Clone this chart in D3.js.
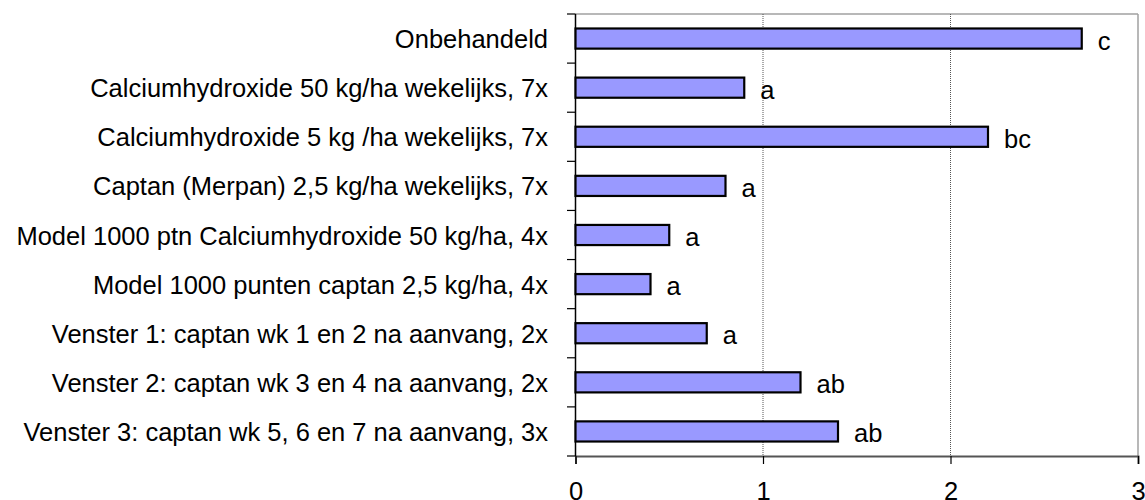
<!DOCTYPE html>
<html><head><meta charset="utf-8">
<script src="https://cdn.jsdelivr.net/npm/d3@7"></script>
<style>body{margin:0;background:#fff}svg text{font-family:"Liberation Sans",Arial,sans-serif;fill:#000}</style>
</head><body><svg id="c" width="1145" height="500"></svg>
<script>
const categories = [
  "Onbehandeld",
  "Calciumhydroxide 50 kg/ha wekelijks, 7x",
  "Calciumhydroxide 5 kg /ha wekelijks, 7x",
  "Captan (Merpan) 2,5 kg/ha wekelijks, 7x",
  "Model 1000 ptn Calciumhydroxide 50 kg/ha, 4x",
  "Model 1000 punten captan 2,5 kg/ha, 4x",
  "Venster 1: captan wk 1 en 2 na aanvang, 2x",
  "Venster 2: captan wk 3 en 4 na aanvang, 2x",
  "Venster 3: captan wk 5, 6 en 7 na aanvang, 3x"
];
const values = [2.7, 0.9, 2.2, 0.8, 0.5, 0.4, 0.7, 1.2, 1.4];
const letters = ["c", "a", "bc", "a", "a", "a", "a", "ab", "ab"];
const xTicks = [0, 1, 2, 3];

const svg = d3.select("#c");
const fs = 25.5;
const x = d3.scaleLinear().domain([0, 3]).range([575.5, 1138]);
const y = d3.scaleBand().domain(categories).range([14, 456]).paddingInner(0.59).paddingOuter(0.295);
const step = y.step();

// plot border (grey top/right)
svg.append("line").attr("x1", x(0)).attr("x2", x(3)).attr("y1", 14).attr("y2", 14).attr("stroke", "#a0a0a0").attr("stroke-width", 1.5);
svg.append("line").attr("x1", x(3)).attr("x2", x(3)).attr("y1", 14).attr("y2", 456).attr("stroke", "#a0a0a0").attr("stroke-width", 1.5);

// gridlines
svg.append("g").selectAll("line").data(xTicks.filter(t => t > 0 && t < 3)).join("line")
  .attr("x1", d => x(d)).attr("x2", d => x(d)).attr("y1", 14).attr("y2", 456)
  .attr("stroke", "#555").attr("stroke-width", 1).attr("stroke-dasharray", "1,1");

// x axis
const xAxis = d3.axisBottom(x).tickValues(xTicks).tickSize(8).tickPadding(19).tickFormat(d3.format("d"));
const gx = svg.append("g").attr("transform", "translate(0,456)").call(xAxis);
gx.select(".domain").attr("stroke", "#555").attr("stroke-width", 2);
gx.selectAll(".tick line").attr("stroke", "#000").attr("stroke-width", 1.2);
gx.selectAll(".tick text").attr("font-size", fs).attr("font-family", null).attr("dy", null).attr("y", 43.5);

// y axis: ticks at band boundaries
const bounds = d3.range(categories.length + 1).map(i => 14 + i * step);
svg.append("g").selectAll("line").data(bounds).join("line")
  .attr("x1", 567).attr("x2", x(0)).attr("y1", d => d).attr("y2", d => d)
  .attr("stroke", "#000").attr("stroke-width", 1.2);
svg.append("line").attr("x1", x(0)).attr("x2", x(0)).attr("y1", 14).attr("y2", 456).attr("stroke", "#000").attr("stroke-width", 1.5);

// category labels
svg.append("g").selectAll("text").data(categories).join("text")
  .attr("x", 548).attr("y", d => y(d) + y.bandwidth() / 2 + 9.5)
  .attr("text-anchor", "end").attr("font-size", fs).text(d => d);

// bars
svg.append("g").selectAll("rect").data(values).join("rect")
  .attr("x", x(0)).attr("y", (d, i) => y(categories[i]))
  .attr("width", d => x(d) - x(0)).attr("height", y.bandwidth())
  .attr("fill", "#9999ff").attr("stroke", "#000").attr("stroke-width", 2.2);

// letter labels
svg.append("g").selectAll("text").data(letters).join("text")
  .attr("x", (d, i) => x(values[i]) + 16).attr("y", (d, i) => y(categories[i]) + y.bandwidth() / 2 + 11)
  .attr("font-size", fs).text(d => d);
</script></body></html>
